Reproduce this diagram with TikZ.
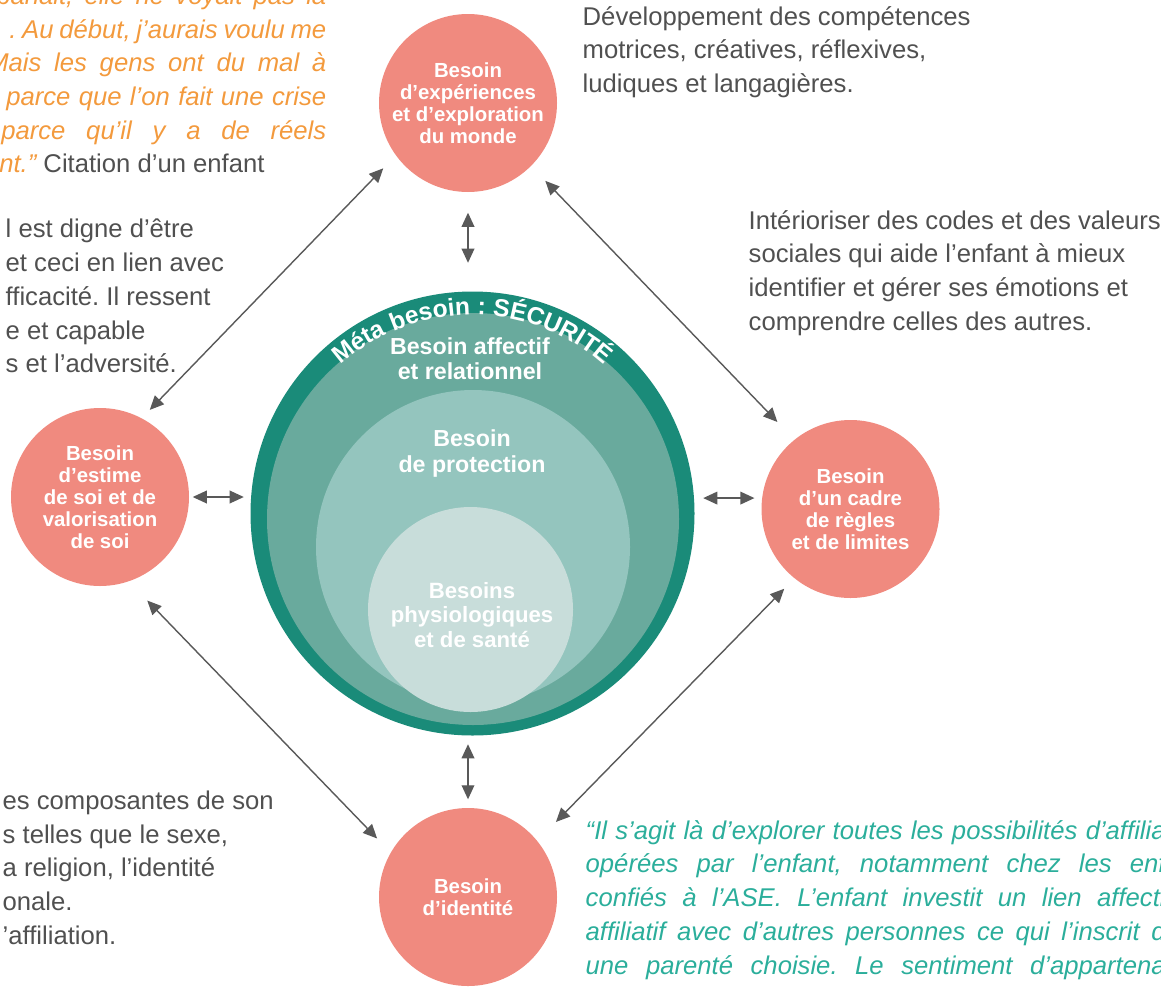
\documentclass[tikz,border=0pt]{standalone}
\usepackage{fontspec}
\setmainfont{Liberation Sans}
\usetikzlibrary{positioning, arrows.meta, decorations.text}

\definecolor{needpink}{HTML}{F08A7F}
\definecolor{metagreen}{HTML}{1A8B79}
\definecolor{layertwo}{HTML}{69AA9D}
\definecolor{layerthree}{HTML}{94C5BE}
\definecolor{layerfour}{HTML}{C8DDDA}
\definecolor{notegray}{HTML}{505050}
\definecolor{linkgray}{HTML}{595959}
\definecolor{quoteorange}{HTML}{F39A3D}
\definecolor{quoteteal}{HTML}{2BAE9B}

\newcommand{\jline}[2]{\makebox[#1][s]{#2}}

\begin{document}
\frenchspacing
\begin{tikzpicture}[node distance=4cm]
  % Define styles
  \tikzstyle{need} = [circle, fill=needpink, minimum size=1.78cm, inner sep=0pt, text=white, align=center, font=\bfseries\fontsize{5.8}{6.3}\selectfont]
  \tikzstyle{layer} = [circle, inner sep=0pt]
  \tikzstyle{inner} = [text=white, align=center, font=\bfseries\fontsize{6.6}{7.2}\selectfont]
  \tikzstyle{note} = [anchor=north west, inner sep=0pt, align=left, text=notegray, font=\fontsize{7.3}{9.6}\selectfont]
  \tikzstyle{link} = [draw=linkgray, line width=0.4pt, <->, >={Triangle[length=4pt, width=3.6pt]}]

  \useasboundingbox (0,0) rectangle (11.61,-9.93);

  % Place central circles
  \node [layer, fill=metagreen, minimum size=4.44cm] (meta) at (4.725,-5.135) {};
  \node [layer, fill=layertwo, minimum size=4.12cm] (affect) at (4.73,-5.19) {};
  \node [layer, fill=layerthree, minimum size=3.14cm] (protect) at (4.73,-5.47) {};
  \node [layer, fill=layerfour, minimum size=2.05cm] (physio) at (4.705,-6.095) {};

  \path [decorate, decoration={text along path, text align=center, text color=white,
    text={|\bfseries\fontsize{7.0}{8}\selectfont|Méta besoin : SÉCURITÉ}}]
    ([shift={(150:1.985)}]meta.center) arc [start angle=150, end angle=30, radius=1.985];

  \node [inner] (affecttext) at (4.70,-3.585) {Besoin affectif\\et relationnel};
  \node [inner] (protecttext) at (4.72,-4.535) {Besoin\\de protection};
  \node [inner, font=\bfseries\fontsize{6.3}{7}\selectfont] (physiotext) at (4.72,-6.15) {Besoins\\physiologiques\\et de santé};

  % Place need circles
  \node [need, above of=meta, node distance=4.105cm, xshift=-0.045cm] (explore) {Besoin\\d’expériences\\et d’exploration\\du monde};
  \node [need, left of=meta, node distance=3.725cm, yshift=0.165cm] (esteem) {Besoin\\d’estime\\de soi et de\\valorisation\\de soi};
  \node [need, right of=meta, node distance=3.78cm, yshift=0.045cm] (rules) {Besoin\\d’un cadre\\de règles\\et de limites};
  \node [need, below of=meta, node distance=3.835cm, xshift=-0.045cm] (identity) {Besoin\\d’identité};

  % Place texts
  \node [note] (skills) at (5.82,-0.055) {Développement des compétences\\motrices, créatives, réflexives,\\ludiques et langagières.};
  \node [note] (codes) at (7.48,-2.095) {Intérioriser des codes et des valeurs\\sociales qui aide l’enfant à mieux\\identifier et gérer ses émotions et\\comprendre celles des autres.};
  \node [note] (worth) at (0.05,-2.185) {l est digne d’être\\et ceci en lien avec\\fficacité. Il ressent\\e et capable\\s et l’adversité.};
  \node [note] (self) at (0.02,-7.90) {es composantes de son\\s telles que le sexe,\\a religion, l’identité\\onale.\\’affiliation.};
  \node [note, anchor=north east, align=right, text=quoteorange, font=\itshape\fontsize{7.3}{9.6}\selectfont] (child) at (3.27,0.15) {%
    \jline{3.30cm}{panait, elle ne voyait pas la}\\
    \jline{3.17cm}{. Au début, j’aurais voulu me}\\
    \jline{3.39cm}{Mais les gens ont du mal à}\\
    \jline{3.20cm}{parce que l’on fait une crise}\\
    \jline{3.25cm}{parce qu’il y a de réels}\\
    \makebox[3.27cm][l]{nt.” {\upshape\color{notegray}Citation d’un enfant}}};
  \node [note, text=quoteteal, font=\itshape\fontsize{7.3}{9.6}\selectfont] (foster) at (5.85,-8.195) {%
    \jline{5.80cm}{“Il s’agit là d’explorer toutes les possibilités d’affilia}\\
    \jline{5.80cm}{opérées par l’enfant, notamment chez les enf}\\
    \jline{5.80cm}{confiés à l’ASE. L’enfant investit un lien affecti}\\
    \jline{5.80cm}{affiliatif avec d’autres personnes ce qui l’inscrit d}\\
    \jline{5.80cm}{une parenté choisie. Le sentiment d’appartena}};

  % Draw arrows
  \draw [link, shorten <=0.2cm, shorten >=0.28cm] (explore.south) -- (explore.south |- meta.north);
  \draw [link, shorten <=0.03cm, shorten >=0.06cm] (esteem.east) -- (esteem.east -| meta.west);
  \draw [link, shorten <=0.07cm, shorten >=0.08cm] (rules.173) -- (rules.173 -| meta.east);
  \draw [link, shorten <=0.08cm, shorten >=0.08cm] (identity.north) -- (identity.north |- meta.south);
  \draw [link, shorten <=0.175cm, shorten >=0.11cm] (explore.216) -- (esteem.62);
  \draw [link, shorten <=0.2cm, shorten >=0.24cm] (explore.315) -- (rules.129);
  \draw [link, shorten <=0.26cm, shorten >=0.19cm] (esteem.289) -- (identity.150);
  \draw [link, shorten <=0.14cm, shorten >=0.26cm] (rules.231) -- (identity.39);
\end{tikzpicture}
\end{document}
